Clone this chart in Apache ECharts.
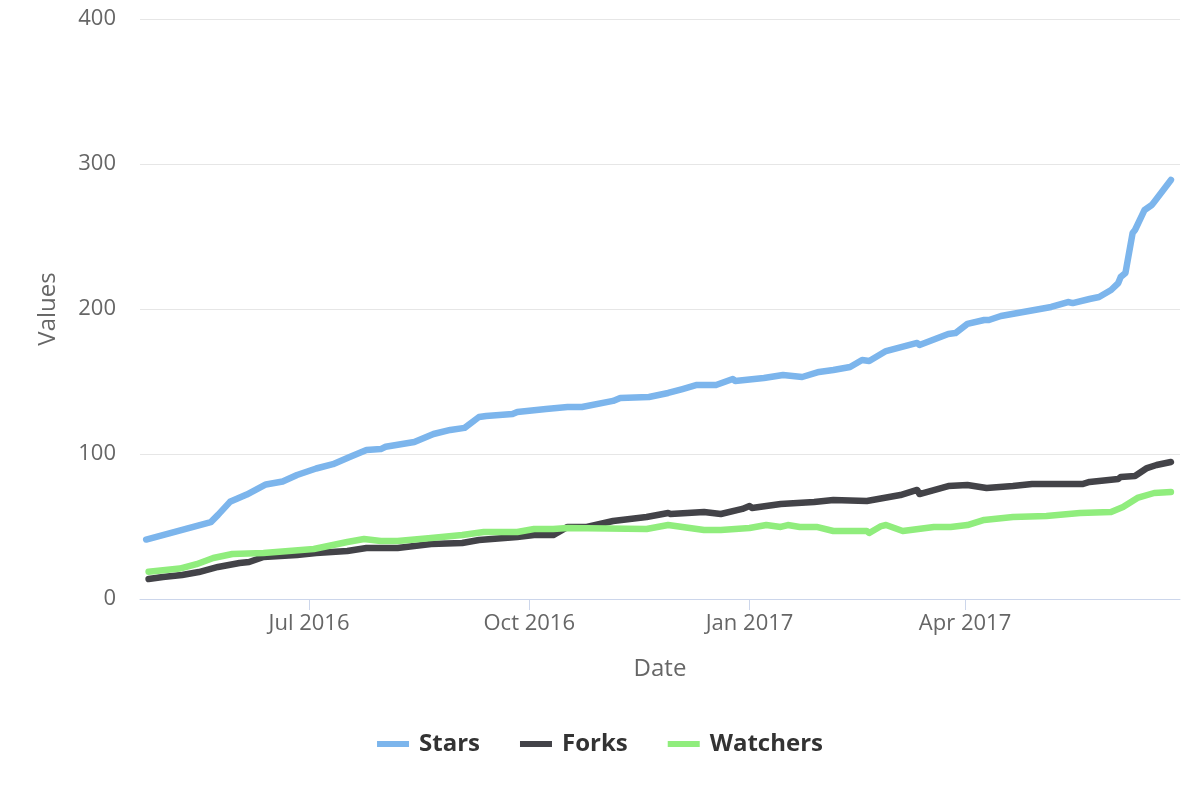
<!DOCTYPE html>
<html>
<head>
<meta charset="utf-8">
<script src="https://cdn.jsdelivr.net/npm/echarts@6/dist/echarts.min.js"></script>
<style>
  html, body { margin: 0; padding: 0; background: #ffffff; }
  #chart { width: 1200px; height: 800px; }
</style>
</head>
<body>
<div id="chart"></div>
<script>
// ---- Data ----
const seriesNames = ['Stars', 'Forks', 'Watchers'];

const starsDates = ['2016-04-24','2016-05-21','2016-05-24','2016-05-29','2016-06-05','2016-06-13','2016-06-20','2016-06-26',
  '2016-07-04','2016-07-11','2016-07-18','2016-07-25','2016-07-31','2016-08-02','2016-08-14','2016-08-22','2016-08-29',
  '2016-09-04','2016-09-10','2016-09-13','2016-09-24','2016-09-26','2016-10-08','2016-10-17','2016-10-23','2016-11-05',
  '2016-11-08','2016-11-20','2016-11-28','2016-12-04','2016-12-10','2016-12-18','2016-12-25','2016-12-26','2017-01-07',
  '2017-01-15','2017-01-23','2017-01-30','2017-02-05','2017-02-12','2017-02-17','2017-02-20','2017-02-27','2017-03-12',
  '2017-03-13','2017-03-25','2017-03-28','2017-04-02','2017-04-09','2017-04-11','2017-04-16','2017-05-07','2017-05-14',
  '2017-05-16','2017-05-23','2017-05-27','2017-06-01','2017-06-04','2017-06-05','2017-06-07','2017-06-10','2017-06-11',
  '2017-06-15','2017-06-18','2017-06-19','2017-06-26'];
const starsValues = [41,53,58,67,72,79,81,85.5,
  90,93,98,102.8,103.4,105,108.3,113.8,116.6,
  118,125.5,126.2,127.6,129,131,132.4,132.4,136.6,
  138.6,139.3,142.1,144.8,147.6,147.6,151.7,150.3,152.4,
  154.5,153.1,156.6,157.9,160,164.8,164.1,171,176.6,
  175.2,182.8,183.4,189.7,192.4,192.4,195.2,201.4,204.8,
  204.1,206.9,208.3,213.1,217.9,222,224.8,252.4,254.5,
  268.3,271.7,273.8,289];

const forksDates = ['2016-04-25','2016-05-01','2016-05-09','2016-05-16','2016-05-24','2016-06-02','2016-06-06','2016-06-12',
  '2016-06-26','2016-07-04','2016-07-17','2016-07-25','2016-08-07','2016-08-21','2016-09-03','2016-09-10','2016-09-26',
  '2016-10-03','2016-10-11','2016-10-17','2016-10-25','2016-11-05','2016-11-19','2016-11-28','2016-11-29','2016-12-13',
  '2016-12-20','2016-12-29','2017-01-01','2017-01-02','2017-01-14','2017-01-28','2017-02-05','2017-02-19','2017-03-05',
  '2017-03-12','2017-03-13','2017-03-25','2017-04-02','2017-04-10','2017-04-21','2017-04-29','2017-05-20','2017-05-23',
  '2017-06-04','2017-06-05','2017-06-11','2017-06-16','2017-06-20','2017-06-26'];
const forksValues = [13.8,15.2,16.6,18.6,22.1,24.8,25.5,29,
  30.3,31.7,33.1,35.2,35.2,37.9,38.6,40.7,42.8,
  44.1,44.1,49.7,49.7,53.8,56.6,59.3,58.6,60,
  58.6,62.1,64.1,62.8,65.5,66.9,68.3,67.6,71.7,
  75.2,72.4,77.9,78.6,76.6,77.9,79.3,79.3,80.7,
  82.8,84.1,84.8,90.3,92.4,94.5];

const watchersDates = ['2016-04-25','2016-05-08','2016-05-15','2016-05-22','2016-05-30','2016-06-12','2016-07-03','2016-07-17',
  '2016-07-24','2016-07-31','2016-08-07','2016-08-21','2016-09-03','2016-09-12','2016-09-26','2016-10-03','2016-10-11',
  '2016-10-17','2016-11-19','2016-11-28','2016-12-13','2016-12-20','2017-01-01','2017-01-08','2017-01-14','2017-01-17',
  '2017-01-22','2017-01-29','2017-02-05','2017-02-19','2017-02-20','2017-02-25','2017-02-27','2017-03-06','2017-03-19',
  '2017-03-26','2017-04-02','2017-04-09','2017-04-21','2017-05-05','2017-05-19','2017-06-01','2017-06-06','2017-06-12',
  '2017-06-19','2017-06-26'];
const watchersValues = [18.8,21,24,28.3,31,31.7,34.5,39.3,
  41.4,40,40,42.1,44.1,46.2,46.2,48.3,48.3,
  49,48.3,51,47.6,47.6,49,51,49.7,51,
  49.7,49.7,46.9,46.9,45.5,50.3,51,46.9,49.7,
  49.7,51,54.5,56.6,57.2,59.3,60,63.4,69.7,
  73.1,73.8];

const xTickDates = ['2016-07-01','2016-10-01','2017-01-01','2017-04-01'];
const xTickLabels = ['Jul 2016','Oct 2016','Jan 2017','Apr 2017'];
const xRange = ['2016-04-21 10:00','2017-06-29 19:00'];
const yTicks = [0, 100, 200, 300, 400];

const colors = ['#7cb5ec', '#434348', '#90ed7d'];

// ---- Build ----
const parse = s => +echarts.time.parse(s);
const zip = (ds, vs) => ds.map((d, i) => [parse(d), vs[i]]);
const tickValues = xTickDates.map(parse);

const chart = echarts.init(document.getElementById('chart'), null, { renderer: 'canvas' });

const mkSeries = (name, data, color) => ({
  name: name,
  type: 'line',
  data: data,
  showSymbol: false,
  symbol: 'none',
  lineStyle: { width: 6.5, color: color, cap: 'round', join: 'round' },
  itemStyle: { color: color },
  emphasis: { disabled: true }
});

chart.setOption({
  animation: false,
  color: colors,
  textStyle: { fontFamily: '"Open Sans", sans-serif' },
  grid: { left: 140, right: 20, top: 19, bottom: 201, containLabel: false },
  legend: {
    data: seriesNames,
    left: 'center',
    top: 727,
    icon: 'rect',
    itemWidth: 32,
    itemHeight: 6,
    itemGap: 40,
    textStyle: { fontSize: 24, fontWeight: 'bold', color: '#333333', fontFamily: '"Open Sans", sans-serif', padding: [0, 0, 0, 5] }
  },
  xAxis: {
    type: 'value',
    min: parse(xRange[0]),
    max: parse(xRange[1]),
    name: 'Date',
    nameLocation: 'middle',
    nameGap: 58,
    nameTextStyle: { fontSize: 24, color: '#666666' },
    axisLine: { show: true, onZero: false, lineStyle: { color: '#ccd6eb', width: 1 } },
    axisTick: { show: true, length: 11, customValues: tickValues, lineStyle: { color: '#ccd6eb', width: 1 } },
    axisLabel: {
      customValues: tickValues,
      fontSize: 22,
      color: '#666666',
      margin: 14,
      showMinLabel: true,
      showMaxLabel: true,
      formatter: function (val) {
        const i = tickValues.indexOf(val);
        return i >= 0 ? xTickLabels[i] : '';
      }
    },
    splitLine: { show: false }
  },
  yAxis: {
    type: 'value',
    min: yTicks[0],
    max: yTicks[yTicks.length - 1],
    interval: 100,
    name: 'Values',
    nameLocation: 'middle',
    nameGap: 80,
    nameTextStyle: { fontSize: 24, color: '#666666' },
    axisLine: { show: false },
    axisTick: { show: false },
    axisLabel: { fontSize: 22, color: '#666666', margin: 24 },
    splitLine: { lineStyle: { color: '#e6e6e6', width: 1 } }
  },
  series: [
    mkSeries(seriesNames[0], zip(starsDates, starsValues), colors[0]),
    mkSeries(seriesNames[1], zip(forksDates, forksValues), colors[1]),
    mkSeries(seriesNames[2], zip(watchersDates, watchersValues), colors[2])
  ]
});
</script>
</body>
</html>
